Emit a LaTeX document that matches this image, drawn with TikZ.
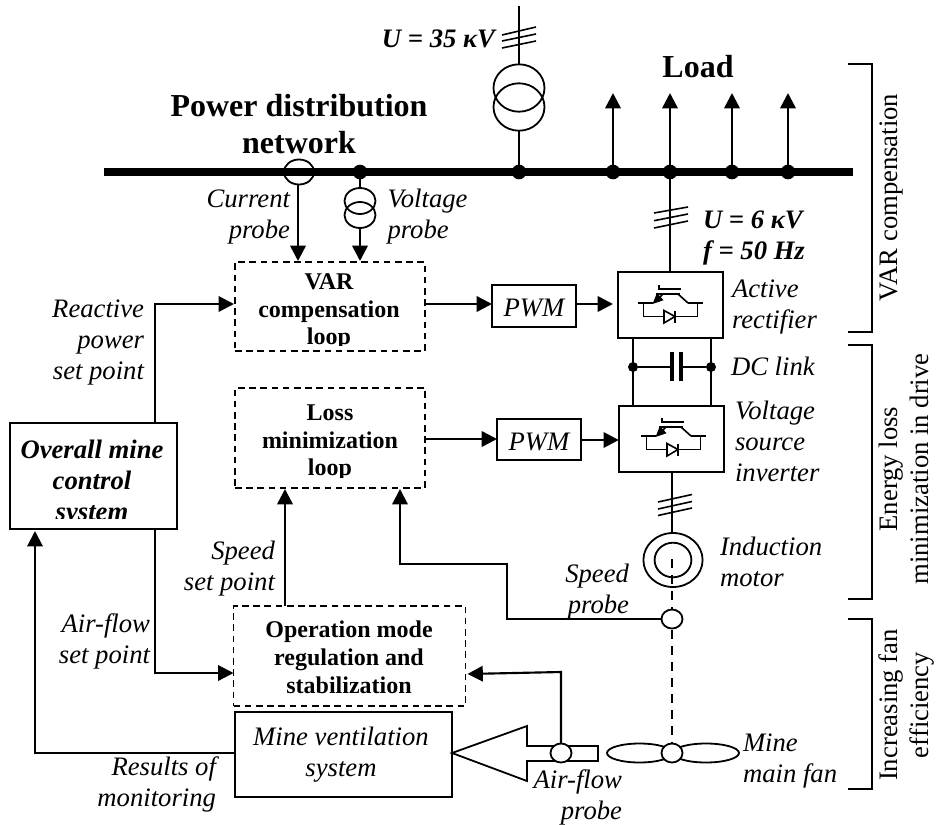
\documentclass[tikz,border=0pt]{standalone}
\usepackage{fontspec}
\setmainfont{Liberation Serif}
\usetikzlibrary{arrows.meta}
\newcommand{\fl}{\rule{0pt}{20pt}}
\tikzset{
  x=0.75pt,y=-0.75pt,
  every node/.style={inner sep=0pt,outer sep=0pt,align=center},
  wire/.style={line width=1.9pt},
  thin wire/.style={line width=1.35pt},
  arr/.style={line width=1.9pt,-{Triangle[length=11.5pt,width=11.5pt]}},
  arrt/.style={line width=1.6pt,-{Triangle[length=11.5pt,width=11.5pt]}},
  solidbox/.style={draw,line width=1.35pt,fill=white},
  dashbox/.style={draw,line width=1.2pt,dash pattern=on 5pt off 3.4pt},
  dot/.style={circle,fill=black,minimum size=11pt},
  sdot/.style={circle,fill=black,minimum size=7.5pt},
  lab/.style={font=\fontsize{20}{23.25}\selectfont\itshape,align=center,anchor=north},
  rlab/.style={font=\fontsize{20}{23.25}\selectfont\itshape,align=right,anchor=north east},
  llab/.style={font=\fontsize{20}{23.25}\selectfont\itshape,align=left,anchor=north west},
  blab/.style={font=\fontsize{18}{20.6}\selectfont\bfseries,align=center,anchor=north},
  bilab/.style={font=\fontsize{20}{23.25}\selectfont\bfseries\itshape},
  biglab/.style={font=\fontsize{24}{27.6}\selectfont\bfseries,align=center,anchor=north},
  side/.style={font=\fontsize{20}{23.25}\selectfont,rotate=90,align=center,anchor=north},
  tick/.style={line width=1.2pt},
  brk/.style={line width=1.2pt},
}
\newcommand{\igbt}[2]{%
  \begin{scope}[shift={(#1,#2)}]
    \draw[line width=1.2pt] (-32.5,-6) -- (-17.5,-6) (17.5,-6) -- (32.5,-6);
    \draw[line width=1.2pt] (-27,-6) -- (-27,7.5) -- (27,7.5) -- (27,-6);
    \draw[line width=1.2pt] (-11.5,-24) -- (-11.5,-20) -- (10.5,-20);
    \draw[line width=1.9pt] (-14.5,-15) -- (9.5,-15);
    \draw[line width=1.2pt] (7.5,-15) -- (17.5,-6);
    \draw[line width=1.2pt,-{Triangle[length=8pt,width=7pt]}] (-7.5,-15) -- (-18,-5);
    \draw[line width=1.2pt,fill=white] (-6.5,1.5) -- (-6.5,14) -- (4.5,7.5) -- cycle;
    \draw[line width=1.5pt] (4.5,1.5) -- (4.5,14);
  \end{scope}}
\begin{document}
\begin{tikzpicture}
\useasboundingbox (0,0) rectangle (936,825);
\coordinate (busL) at (104,172); \coordinate (busR) at (853,172);
\draw[line width=6pt] (busL) -- (busR);
\node[dot] (d1) at (360,172) {};
\node[dot] (d2) at (519,172) {};
\node[dot] (d3) at (613,172) {};
\node[dot] (d4) at (670,172) {};
\node[dot] (d5) at (732,172) {};
\node[dot] (d6) at (788,172) {};
% 35kV
\coordinate (top) at (519,6);
\draw[thin wire] (top) -- (519,64);
\draw[thin wire] (519,131) -- (d2);
\draw[thin wire] (519,88) ellipse [x radius=25.5,y radius=23.7];
\draw[thin wire] (519,107) ellipse [x radius=25.5,y radius=23.7];
\draw[tick] (502,35)--(536,27) (502,41)--(536,34) (502,48)--(536,41);
\node[bilab,anchor=base east] (u35) at (495,47) {U = 35 κV};
% loads
\foreach \n/\x in {d3/613,d4/670,d5/732,d6/788}{
  \coordinate (t\n) at (\x,93);
  \draw[arr] (\n) -- (t\n);
}
\node[font=\fontsize{24}{27.6}\selectfont\bfseries,anchor=base] (load) at (698,77) {Load};
\node[biglab] (pdn) at (299,90.3) {\fl Power distribution\\network};
% probes
\draw[thin wire] (299,172) ellipse [x radius=15,y radius=12.5];
\coordinate (cp) at (298,185);
\draw[arr] (cp) -- (298,261);
\draw[wire] (d1) -- (360,188);
\draw[thin wire] (360,201) ellipse [x radius=15.5,y radius=13];
\draw[thin wire] (360,215) ellipse [x radius=15.5,y radius=13];
\draw[arr] (360,228) -- (360,261);
\node[rlab] (curp) at (290,181.3) {\fl Current\\probe};
\node[llab] (volp) at (387.5,181.3) {\fl Voltage\\probe};
% converter boxes
\node[solidbox,minimum width=79pt,minimum height=49.5pt] (rect) at (670.5,305) {};
\node[solidbox,minimum width=79pt,minimum height=49.5pt] (inv) at (671.5,439) {};
\draw[wire] (d4) -- (rect.north -| d4);
\draw[tick] (654,228)--(688,221) (654,220.7)--(688,214) (654,213)--(688,207);
\node[llab,bilab] (u6) at (703,202.3) {\fl U = 6 κV\\f = 50 Hz};
\igbt{670.5}{309}
\igbt{673.5}{442}
\node[llab] (lr) at (732,271.3) {\fl Active\\rectifier};
\node[italic/.style={},font=\fontsize{20}{23.25}\selectfont\itshape,anchor=base west] (dcl) at (731,375) {DC link};
\node[llab] (lv) at (735,393.3) {\fl Voltage\\source\\inverter};
% DC link
\coordinate (a) at (633,338); \coordinate (b) at (711,338);
\coordinate (c) at (633,406); \coordinate (e) at (711,406);
\draw[thin wire] (a) -- (c) (b) -- (e);
\node[sdot] (dl) at (633,367) {};
\node[sdot] (dr) at (711,367) {};
\coordinate (cl) at (672,367); \coordinate (cr) at (681,367);
\draw[wire] (dl) -- (cl) (cr) -- (dr);
\draw[line width=3pt] (672,352) -- (672,381) (681,352) -- (681,381);
% boxes
\node[dashbox,minimum width=142.5pt,minimum height=66.75pt] (var) at (330,306.5) {};
\begin{scope}
  \clip (237,264) rectangle (423,345.5);
  \node[blab] (vart) at (329,263.3) {\fl VAR\\compensation\\loop};
\end{scope}
\node[dashbox,minimum width=142.5pt,minimum height=75pt] (loss) at (330,438) {};
\begin{scope}
  \clip (237,390) rectangle (423,477);
  \node[blab] (losst) at (330,394.3) {\fl Loss\\minimization\\loop};
\end{scope}
\node[dashbox,minimum width=174pt,minimum height=75pt] (op) at (349.5,656) {};
\node[blab,font=\fontsize{18}{21}\selectfont\bfseries] (opt) at (349,611.3) {\fl Operation mode\\regulation and\\stabilization};
\node[solidbox,minimum width=125pt,minimum height=80pt] (ovr) at (93.5,476) {};
\begin{scope}
  \clip (12,424) rectangle (175,518);
  \node[lab,bilab] (ovrt) at (92,432.3) {\fl Overall mine\\control\\system};
\end{scope}
\node[solidbox,minimum width=162.75pt,minimum height=63.75pt] (mv) at (343.5,754.5) {};
\node[lab] (mvt) at (341,719.3) {\fl Mine ventilation\\system};
\node[solidbox,minimum width=63pt,minimum height=31.5pt] (pwm1) at (534,306) {};
\node[font=\fontsize{20}{20}\selectfont\itshape,anchor=base] (pwm1t) at (534,316) {PWM};
\node[solidbox,minimum width=63pt,minimum height=31pt] (pwm2) at (539,439.5) {};
\node[font=\fontsize{20}{20}\selectfont\itshape,anchor=base] (pwm2t) at (539,450) {PWM};
% arrows
\draw[arr] (425,304) -- (pwm1.west |- 0,304);
\draw[arr] (pwm1.east |- 0,304) -- (613,304);
\draw[arr] (loss.east |- 0,439) -- (pwm2.west |- 0,439);
\draw[arr] (pwm2.east |- 0,440) -- (inv.west |- 0,440);
\draw[arrt] (ovr.north -| 155,0) -- (155,304) -- (234,304);
\draw[arrt] (ovr.south -| 155,0) -- (155,673) -- (op.west |- 0,673);
\draw[arr] (op.north -| 285,0) -- (285,489);
\draw[arrt] (mv.west |- 0,753) -- (35,753) -- (35,531);
% motor
\draw[wire] (inv.south -| 672,0) -- (672,533);
\draw[tick] (658,502)--(692,494.5) (658,509)--(692,501.5) (658,515.5)--(692,508);
\draw[thin wire] (673,560) ellipse [x radius=29.6,y radius=27];
\draw[thin wire] (673,560) ellipse [x radius=18.4,y radius=17.3];
\draw[line width=1.1pt,dash pattern=on 7pt off 5pt] (672,559) -- (672,609);
\draw[line width=1.1pt,dash pattern=on 7pt off 5pt] (672,630) -- (672,743);
\draw[thin wire,fill=white] (672,619) ellipse [x radius=10.5,y radius=9.5];
\coordinate (s1) at (507,619);
\draw[arrt] (661.5,619) -- (s1) -- (507,564) -- (400,564) -- (400,489);
\node[llab] (indm) at (720,529.3) {\fl Induction\\motor};
\node[rlab] (spp) at (629,556.3) {\fl Speed\\probe};
\node[rlab] (sps) at (275,533.3) {\fl Speed\\set point};
\node[rlab] (rp) at (144,291.3) {\fl Reactive\\power\\set point};
\node[rlab] (afs) at (150,606.3) {\fl Air-flow\\set point};
\node[rlab] (rm) at (216,749.3) {\fl Results of\\monitoring};
% big air arrow
\draw[thin wire,line join=miter] (452,753) -- (527,726) -- (527,746) -- (598,746) -- (598,761) -- (527,761) -- (527,781) -- cycle;
\draw[thin wire,fill=white] (561,753) ellipse [x radius=10.5,y radius=9.5];
\draw[arrt] (561,743) -- (561,672) -- (467.5,674);
\node[rlab] (afp) at (622,762.3) {\fl Air-flow\\probe};
% fan
\draw[thin wire] (639.5,753) ellipse [x radius=32.5,y radius=9.5];
\draw[thin wire] (706,753) ellipse [x radius=33,y radius=9.5];
\draw[thin wire,fill=white] (672,753) ellipse [x radius=10.5,y radius=9.5];
\node[llab] (fan) at (743,725.3) {\fl Mine\\main fan};
% brackets
\coordinate (b1a) at (848,64); \coordinate (b1b) at (848,332);
\draw[brk] (b1a) -- (872,64) -- (872,332) -- (b1b);
\coordinate (b2a) at (848,345); \coordinate (b2b) at (848,599);
\draw[brk] (b2a) -- (872,345) -- (872,599) -- (b2b);
\coordinate (b3a) at (848,619); \coordinate (b3b) at (848,789);
\draw[brk] (b3a) -- (872,619) -- (872,789) -- (b3b);
\node[side] (s1t) at (871.3,197.5) {\fl VAR compensation};
\node[side] (s2t) at (871.3,469) {\fl Energy loss\\minimization in drive};
\node[side] (s3t) at (871.3,705) {\fl Increasing fan\\efficiency};
\end{tikzpicture}
\end{document}
